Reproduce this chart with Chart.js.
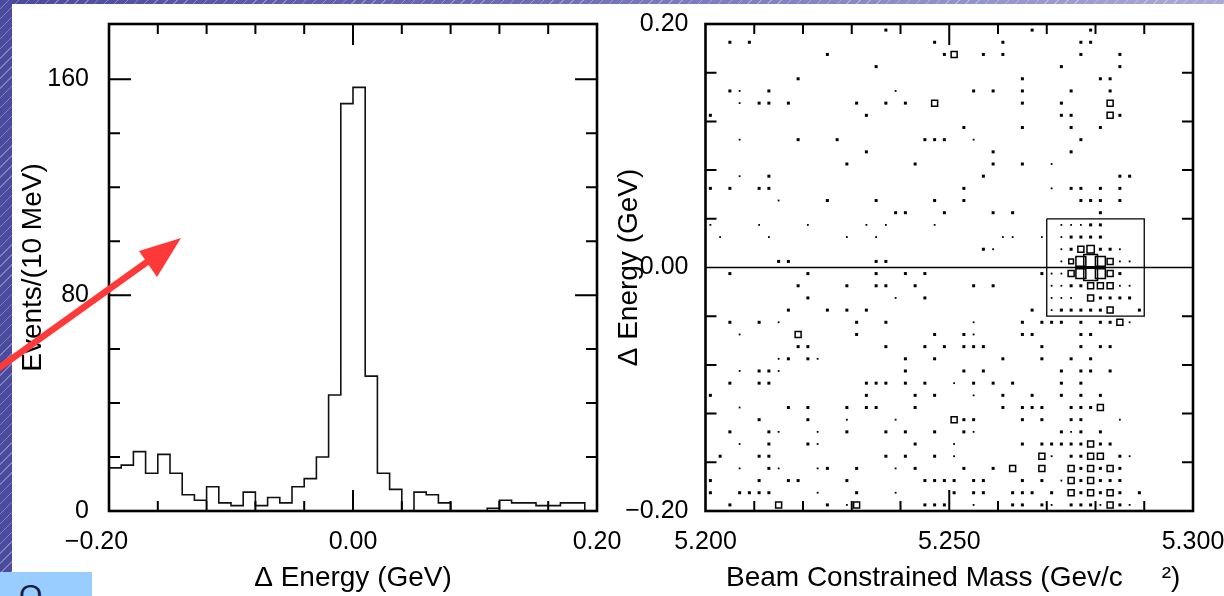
<!DOCTYPE html>
<html>
<head>
<meta charset="utf-8">
<script src="https://cdn.jsdelivr.net/npm/chart.js@4.4.1/dist/chart.umd.min.js"></script>
<style>
html,body{margin:0;padding:0;}
body{width:1224px;height:596px;position:relative;overflow:hidden;font-family:'Liberation Sans',Arial,sans-serif;}
#bg{position:absolute;left:0;top:0;width:1224px;height:596px;
 background:
  repeating-linear-gradient(135deg, rgba(255,255,255,0) 0px, rgba(255,255,255,0) 6px, rgba(255,255,255,0.30) 6px, rgba(255,255,255,0.30) 7px),
  linear-gradient(90deg,#4a4a9e 0%,#6e6eb6 45%,#a9a9d8 100%);}
#panel{position:absolute;left:12px;top:4px;right:0;bottom:0;background:#fff;}
#tab{position:absolute;left:0;top:572px;width:92px;height:24px;background:#99ccff;overflow:hidden;}
#tab span{position:absolute;left:19px;top:8px;font-size:30px;line-height:30px;color:#1c1c3c;}
#wl{position:absolute;left:0;top:0;width:640px;height:596px;}
#wr{position:absolute;left:600px;top:0;width:624px;height:596px;}
#arrow{position:absolute;left:0;top:0;width:1224px;height:596px;pointer-events:none;}
</style>
</head>
<body>
<div id="bg"></div>
<div id="panel"></div>
<div id="tab"><span>O</span></div>
<div id="wl"><canvas id="cl" width="640" height="596"></canvas></div>
<div id="wr"><canvas id="cr" width="624" height="596"></canvas></div>
<svg id="arrow" viewBox="0 0 1224 596">
  <line x1="-4" y1="370" x2="154" y2="257" stroke="#ff3838" stroke-width="6.5"/>
  <polygon points="181,238 139,251 157,277" fill="#ff3838"/>
</svg>
<script>
// ---------- Left: Delta E histogram (10 MeV bins) ----------
const energyEdges = [-0.20,-0.19,-0.18,-0.17,-0.16,-0.15,-0.14,-0.13,-0.12,-0.11,-0.10,-0.09,-0.08,-0.07,-0.06,-0.05,-0.04,-0.03,-0.02,-0.01,0.00,0.01,0.02,0.03,0.04,0.05,0.06,0.07,0.08,0.09,0.10,0.11,0.12,0.13,0.14,0.15,0.16,0.17,0.18,0.19,0.20];
const eventsPerBin = [16,17,22,14,21,14,6,4,9,3,2,7,2,5,3,9,12,20,43,151,157,50,14,8,0,7,6,3,0,0,0,1,4,3,3,2,2,3,3,0];
const histXTicks = [-0.20, 0.00, 0.20];
const histXLabels = ['\u22120.20\u2002\u2002', '0.00', '0.20'];
const histYTicks = [0, 80, 160];
const histYLabels = ['0', '80', '160'];
const histXMinor = [-0.16,-0.12,-0.08,-0.04,0.04,0.08,0.12,0.16];
const histXMajor = [0.00];
const histYMinor = [20,40,60,100,120,140];
const histYMajor = [80,160];

// ---------- Right: Mbc vs Delta E box plot ----------
// each row: [Delta E bin centre, [[Mbc bin centre, entries], ...]]
const scatterRows = [
 [0.195,[[5.237,2],[5.267,2],[5.279,2]]],
 [0.185,[[5.205,2],[5.209,2],[5.247,2],[5.261,2],[5.277,2],[5.279,2]]],
 [0.175,[[5.225,2],[5.249,2],[5.251,4],[5.257,2],[5.261,2],[5.277,2],[5.285,2]]],
 [0.165,[[5.235,2],[5.273,2],[5.285,2]]],
 [0.155,[[5.219,2],[5.265,2],[5.281,2],[5.283,2]]],
 [0.145,[[5.205,2],[5.207,1],[5.213,2],[5.239,1],[5.255,2],[5.259,2],[5.265,2],[5.275,2],[5.283,2]]],
 [0.135,[[5.207,1],[5.211,2],[5.213,2],[5.217,2],[5.231,2],[5.237,2],[5.241,2],[5.247,4],[5.265,2],[5.273,2],[5.283,4]]],
 [0.125,[[5.201,2],[5.233,2],[5.273,2],[5.275,2],[5.283,4],[5.285,2]]],
 [0.115,[[5.253,2],[5.265,2],[5.275,2],[5.281,2]]],
 [0.105,[[5.207,1],[5.219,2],[5.227,2],[5.245,2],[5.247,2],[5.249,2],[5.255,1],[5.277,2]]],
 [0.095,[[5.233,2],[5.259,2],[5.275,2]]],
 [0.085,[[5.229,2],[5.243,2],[5.259,2],[5.265,2],[5.271,1]]],
 [0.075,[[5.207,1],[5.213,2],[5.257,2],[5.285,2],[5.287,2]]],
 [0.065,[[5.201,2],[5.205,2],[5.211,2],[5.213,2],[5.253,2],[5.271,1],[5.275,2],[5.277,2],[5.281,2],[5.285,2]]],
 [0.055,[[5.215,1],[5.225,2],[5.235,2],[5.247,2],[5.253,2],[5.277,2],[5.279,2],[5.281,2],[5.285,2]]],
 [0.045,[[5.239,2],[5.241,2],[5.249,2],[5.259,2],[5.263,2],[5.281,2]]],
 [0.035,[[5.201,1],[5.211,1],[5.221,1],[5.233,1],[5.237,1],[5.247,1],[5.273,1],[5.275,1],[5.277,1],[5.279,2],[5.281,2]]],
 [0.025,[[5.203,1],[5.213,1],[5.229,1],[5.235,1],[5.261,1],[5.263,1],[5.269,1],[5.273,1],[5.275,2],[5.277,2],[5.279,2],[5.281,2]]],
 [0.015,[[5.257,2],[5.259,1],[5.273,1],[5.275,2],[5.277,4],[5.279,5],[5.281,2],[5.283,2],[5.285,1]]],
 [0.005,[[5.215,2],[5.217,2],[5.235,2],[5.237,2],[5.273,1],[5.275,3],[5.277,7],[5.279,10],[5.281,7],[5.283,4],[5.285,1],[5.287,1]]],
 [-0.005,[[5.205,2],[5.221,2],[5.235,2],[5.241,2],[5.245,2],[5.269,2],[5.271,1],[5.273,1],[5.275,4],[5.277,7],[5.279,10],[5.281,7],[5.283,4],[5.285,2]]],
 [-0.015,[[5.219,2],[5.229,2],[5.235,2],[5.237,2],[5.243,2],[5.255,2],[5.259,2],[5.271,1],[5.273,1],[5.275,2],[5.277,2],[5.279,4],[5.281,4],[5.283,4],[5.285,1],[5.287,1]]],
 [-0.025,[[5.221,2],[5.239,1],[5.245,2],[5.271,1],[5.273,1],[5.275,1],[5.279,4],[5.281,2],[5.283,2],[5.285,2],[5.287,2]]],
 [-0.035,[[5.217,2],[5.225,2],[5.229,2],[5.233,2],[5.267,2],[5.271,1],[5.273,2],[5.275,2],[5.277,2],[5.279,2],[5.281,2],[5.283,4],[5.289,2]]],
 [-0.045,[[5.205,2],[5.211,2],[5.215,1],[5.231,2],[5.237,2],[5.255,1],[5.265,2],[5.269,2],[5.271,2],[5.273,2],[5.277,2],[5.281,2],[5.283,2],[5.285,4],[5.287,1]]],
 [-0.055,[[5.207,1],[5.219,4],[5.231,2],[5.247,2],[5.253,2],[5.255,1],[5.265,2],[5.267,2],[5.277,2],[5.279,2]]],
 [-0.065,[[5.219,2],[5.221,2],[5.237,2],[5.245,2],[5.249,2],[5.253,2],[5.255,2],[5.257,2],[5.269,2],[5.277,2],[5.281,2],[5.283,2]]],
 [-0.075,[[5.215,1],[5.217,2],[5.221,2],[5.223,1],[5.241,2],[5.247,2],[5.261,2],[5.269,2],[5.275,2],[5.279,2]]],
 [-0.085,[[5.207,1],[5.211,2],[5.213,2],[5.215,1],[5.241,2],[5.253,2],[5.257,2],[5.273,2],[5.277,2],[5.279,2],[5.283,2]]],
 [-0.095,[[5.205,2],[5.211,2],[5.213,2],[5.233,2],[5.235,2],[5.237,2],[5.241,2],[5.245,2],[5.251,1],[5.255,2],[5.259,2],[5.263,2],[5.273,2],[5.277,2]]],
 [-0.105,[[5.201,2],[5.233,2],[5.243,2],[5.247,2],[5.255,1],[5.261,2],[5.267,2],[5.273,2],[5.277,2],[5.281,2]]],
 [-0.115,[[5.207,1],[5.217,2],[5.221,2],[5.229,2],[5.233,2],[5.235,2],[5.243,2],[5.261,2],[5.265,2],[5.267,2],[5.269,2],[5.275,2],[5.277,2],[5.279,2],[5.281,4]]],
 [-0.125,[[5.211,2],[5.221,2],[5.229,1],[5.239,1],[5.251,4],[5.253,2],[5.255,2],[5.265,2],[5.269,2],[5.275,2],[5.277,2],[5.285,1]]],
 [-0.135,[[5.205,2],[5.213,2],[5.215,1],[5.223,1],[5.229,2],[5.237,2],[5.241,2],[5.247,2],[5.253,2],[5.255,1],[5.273,2],[5.275,1],[5.277,2],[5.281,2]]],
 [-0.145,[[5.207,1],[5.213,2],[5.221,2],[5.223,1],[5.243,2],[5.251,1],[5.265,2],[5.269,2],[5.271,2],[5.273,2],[5.275,2],[5.277,2],[5.279,4],[5.281,2],[5.283,2]]],
 [-0.155,[[5.203,2],[5.211,2],[5.213,2],[5.237,2],[5.241,2],[5.247,2],[5.251,1],[5.269,4],[5.271,1],[5.275,2],[5.277,2],[5.279,4],[5.281,4],[5.285,2],[5.287,1]]],
 [-0.165,[[5.207,1],[5.213,2],[5.215,1],[5.223,1],[5.225,2],[5.231,2],[5.239,1],[5.243,2],[5.253,2],[5.259,2],[5.263,4],[5.269,4],[5.275,4],[5.277,2],[5.279,4],[5.281,2],[5.283,4],[5.285,2]]],
 [-0.175,[[5.201,2],[5.211,2],[5.217,2],[5.219,2],[5.229,2],[5.245,2],[5.247,2],[5.249,2],[5.251,2],[5.255,2],[5.257,2],[5.265,2],[5.269,2],[5.273,1],[5.275,4],[5.277,2],[5.279,4],[5.281,2],[5.283,2],[5.285,2]]],
 [-0.185,[[5.201,2],[5.207,2],[5.209,2],[5.211,2],[5.213,2],[5.223,1],[5.231,2],[5.239,1],[5.251,2],[5.255,2],[5.257,2],[5.263,2],[5.265,2],[5.267,2],[5.271,2],[5.275,4],[5.277,2],[5.279,4],[5.281,2],[5.283,4],[5.285,2],[5.289,2]]],
 [-0.195,[[5.205,2],[5.215,4],[5.225,2],[5.229,1],[5.231,4],[5.245,2],[5.247,2],[5.249,2],[5.255,1],[5.263,2],[5.265,2],[5.269,2],[5.271,1],[5.275,2],[5.277,2],[5.279,2],[5.281,1],[5.283,4],[5.285,2],[5.287,1]]]
];
const signalBoxMass = [5.270, 5.290, 5.290, 5.270, 5.270];
const signalBoxDE   = [0.040, 0.040, -0.040, -0.040, 0.040];
const zeroLineMass = [5.200, 5.300];
const zeroLineDE = [0.0, 0.0];
const mbcTicks = [5.200, 5.250, 5.300];
const mbcLabels = ['5.200', '5.250', '5.300'];
const deTicks = [-0.20, 0.00, 0.20];
const deLabels = ['\u22120.20', '0.00', '0.20'];
const mbcMinor = [5.21,5.22,5.23,5.24,5.26,5.27,5.28,5.29];
const mbcMajor = [5.25];
const deMinor = [-0.16,-0.12,-0.08,-0.04,0.04,0.08,0.12,0.16];

Chart.defaults.font.family = "'Liberation Sans', Arial, sans-serif";
Chart.defaults.color = '#000';
Chart.defaults.animation = false;

// plugin: frame + inward ticks on all four sides, placed through the chart's scales
const frameTicks = {
  id: 'frameTicks',
  afterDatasetsDraw(chart, args, o) {
    const {ctx, chartArea: a, scales: {x, y}} = chart;
    ctx.save();
    ctx.strokeStyle = '#000';
    ctx.lineWidth = 2;
    const xt = (v, len) => {
      const p = x.getPixelForValue(v);
      ctx.beginPath();
      ctx.moveTo(p, a.bottom); ctx.lineTo(p, a.bottom - len);
      ctx.moveTo(p, a.top); ctx.lineTo(p, a.top + len);
      ctx.stroke();
    };
    const yt = (v, len) => {
      const p = y.getPixelForValue(v);
      ctx.beginPath();
      ctx.moveTo(a.left, p); ctx.lineTo(a.left + len, p);
      ctx.moveTo(a.right, p); ctx.lineTo(a.right - len, p);
      ctx.stroke();
    };
    (o.xMinor || []).forEach(v => xt(v, 10));
    (o.xMajor || []).forEach(v => xt(v, 21));
    (o.yMinor || []).forEach(v => yt(v, 11));
    (o.yMajor || []).forEach(v => yt(v, 22));
    ctx.lineWidth = 2.6;
    ctx.strokeRect(a.left, a.top, a.right - a.left, a.bottom - a.top);
    ctx.restore();
  }
};

const tickFont = {size: 25};
const titleFont = {size: 28};
const fitX = s => { s.height = 85; s.paddingLeft = 0; s.paddingRight = 0; };

// ---------- left chart ----------
const histPoints = eventsPerBin.map((v, i) => ({x: energyEdges[i], y: v}));
histPoints.push({x: energyEdges[energyEdges.length - 1], y: eventsPerBin[eventsPerBin.length - 1]});

new Chart(document.getElementById('cl'), {
  type: 'line',
  data: {datasets: [{
    data: histPoints, stepped: 'before', borderColor: '#111', borderWidth: 1.6,
    pointRadius: 0, fill: false
  }]},
  options: {
    responsive: false, maintainAspectRatio: false,
    layout: {padding: {left: 0, top: 24, right: 43, bottom: 0}},
    plugins: {legend: {display: false}, tooltip: {enabled: false},
      frameTicks: {xMinor: histXMinor, xMajor: histXMajor, yMinor: histYMinor, yMajor: histYMajor}},
    scales: {
      x: {type: 'linear', min: -0.20, max: 0.20,
        grid: {display: false, drawTicks: false}, border: {display: false},
        afterBuildTicks: s => { s.ticks = histXTicks.map(v => ({value: v})); },
        afterFit: fitX,
        ticks: {font: tickFont, padding: 16.5, maxRotation: 0, autoSkip: false,
          callback: (v, i) => histXLabels[i]},
        title: {display: true, text: '\u0394 Energy (GeV)', font: titleFont, padding: {top: 0, bottom: 1}}
      },
      y: {type: 'linear', min: 0, max: 180.5,
        grid: {display: false, drawTicks: false}, border: {display: false},
        afterBuildTicks: s => { s.ticks = histYTicks.map(v => ({value: v})); },
        afterFit: s => { s.width = 109; s.paddingTop = 0; s.paddingBottom = 0; },
        ticks: {font: tickFont, padding: 20, autoSkip: false,
          callback: (v, i) => histYLabels[i]},
        title: {display: true, text: 'Events/(10 MeV)', font: titleFont, padding: {top: 16, bottom: 0}}
      }
    }
  },
  plugins: [frameTicks]
});

// ---------- right chart ----------
const cellPoints = [];
scatterRows.forEach(([de, cells]) => cells.forEach(([m, n]) => cellPoints.push({x: m, y: de, n: n})));
const side = n => n <= 2 ? 1.2 * n + 0.6 : 1.3 * n + 0.8;

new Chart(document.getElementById('cr'), {
  type: 'scatter',
  data: {datasets: [
    {data: cellPoints, pointStyle: 'rect',
     pointRadius: c => side(c.raw.n) / Math.SQRT2,
     pointHoverRadius: c => side(c.raw.n) / Math.SQRT2,
     backgroundColor: c => (c.raw && c.raw.n <= 2) ? '#000' : 'rgba(0,0,0,0)',
     borderColor: '#000',
     pointBorderWidth: c => (c.raw && c.raw.n <= 2) ? 0 : 1.5,
     clip: false},
    {data: zeroLineMass.map((m, i) => ({x: m, y: zeroLineDE[i]})), showLine: true,
     borderColor: '#000', borderWidth: 1.3, pointRadius: 0},
    {data: signalBoxMass.map((m, i) => ({x: m, y: signalBoxDE[i]})), showLine: true,
     borderColor: '#000', borderWidth: 1.3, pointRadius: 0}
  ]},
  options: {
    responsive: false, maintainAspectRatio: false,
    layout: {padding: {left: 0, top: 24, right: 31, bottom: 0}},
    plugins: {legend: {display: false}, tooltip: {enabled: false},
      frameTicks: {xMinor: mbcMinor, xMajor: mbcMajor, yMinor: deMinor, yMajor: []}},
    scales: {
      x: {type: 'linear', min: 5.200, max: 5.300,
        grid: {display: false, drawTicks: false}, border: {display: false},
        afterBuildTicks: s => { s.ticks = mbcTicks.map(v => ({value: v})); },
        afterFit: fitX,
        ticks: {font: tickFont, padding: 16.5, maxRotation: 0, autoSkip: false,
          callback: (v, i) => mbcLabels[i]},
        title: {display: true, text: ' Beam Constrained Mass (Gev/c     \u00b2)', font: titleFont, padding: {top: 0, bottom: 1}}
      },
      y: {type: 'linear', min: -0.20, max: 0.20,
        grid: {display: false, drawTicks: false}, border: {display: false},
        afterBuildTicks: s => { s.ticks = deTicks.map(v => ({value: v})); },
        afterFit: s => { s.width = 105.5; s.paddingTop = 0; s.paddingBottom = 0; },
        ticks: {font: tickFont, padding: 17, autoSkip: false,
          callback: (v, i) => deLabels[i]},
        title: {display: true, text: '\u0394 Energy (GeV)', font: titleFont, padding: {top: 12, bottom: 0}}
      }
    }
  },
  plugins: [frameTicks]
});
</script>
</body>
</html>
